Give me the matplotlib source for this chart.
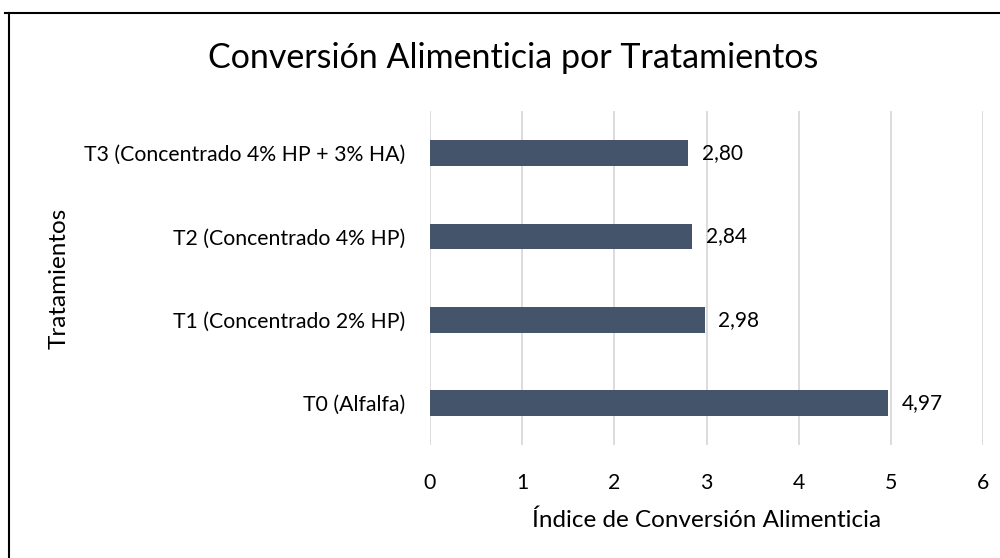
import matplotlib.pyplot as plt
from matplotlib.lines import Line2D

# Data
tratamientos = [
    "T0 (Alfalfa)",
    "T1 (Concentrado 2% HP)",
    "T2 (Concentrado 4% HP)",
    "T3 (Concentrado 4% HP + 3% HA)",
]
conversion = [4.97, 2.98, 2.84, 2.80]
etiquetas = ["4,97", "2,98", "2,84", "2,80"]

plt.rcParams['font.family'] = ['Lato', 'DejaVu Sans']

fig = plt.figure(figsize=(10, 5.58), dpi=100)
ax = fig.add_axes([0.43, 0.2025, 0.553, 0.598])

bar_color = "#44546A"
ypos = range(len(tratamientos))
ax.barh(ypos, conversion, height=0.31, color=bar_color, zorder=3)

for y, v, t in zip(ypos, conversion, etiquetas):
    ax.text(v + 0.15, y, t, va="center", ha="left", fontsize=15, color="#000000")

ax.set_xlim(0, 6)
ax.set_ylim(-0.5, len(tratamientos) - 0.5)
ax.set_xticks(range(0, 7))
ax.set_yticks(list(ypos))
ax.set_yticklabels(tratamientos)
ax.tick_params(axis="both", length=0, labelsize=15.3, colors="#000000")
ax.tick_params(axis="x", pad=20)
ax.tick_params(axis="y", pad=18)
ax.grid(True, axis="x", color="#D9D9D9", linewidth=1.3, zorder=0)
for s in ax.spines.values():
    s.set_visible(False)

ax.set_xlabel("Índice de Conversión Alimenticia", fontsize=17.5, labelpad=12)
ax.set_ylabel("Tratamientos", fontsize=17.5)
ax.yaxis.set_label_coords(-0.652, 0.5)

fig.text(0.513, 1 - 58 / 558, "Conversión Alimenticia por Tratamientos",
         ha="center", va="center", fontsize=24.5)

# outer border (top and left edges visible)
fig.add_artist(Line2D([0.005, 1.0], [1 - 13 / 558, 1 - 13 / 558],
                      transform=fig.transFigure, color="black", linewidth=1.5))
fig.add_artist(Line2D([0.009, 0.009], [0.0, 1 - 13 / 558],
                      transform=fig.transFigure, color="black", linewidth=1.5))

fig.savefig("out.png", dpi=100)
